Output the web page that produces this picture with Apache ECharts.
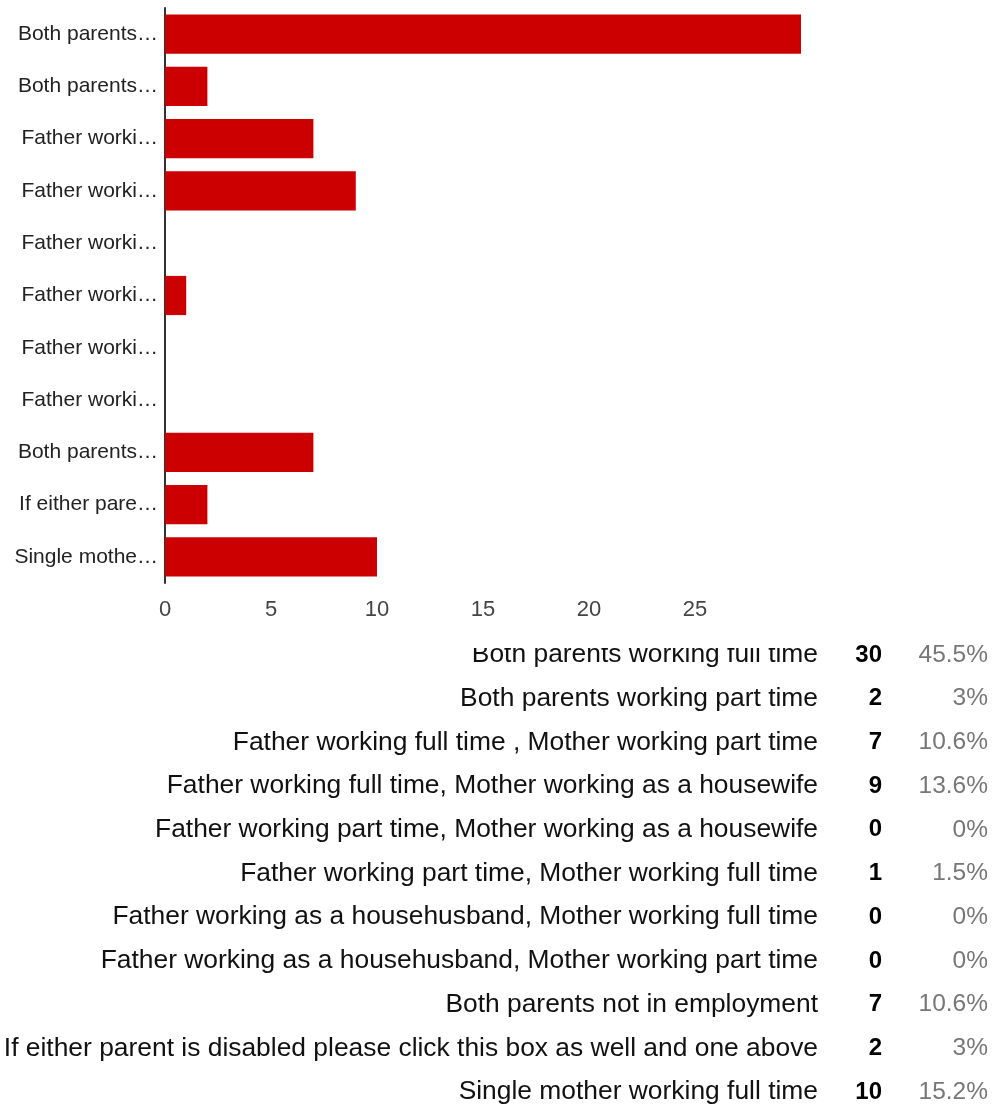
<!DOCTYPE html>
<html>
<head>
<meta charset="utf-8">
<script src="https://cdn.jsdelivr.net/npm/echarts@6/dist/echarts.min.js"></script>
<style>
html,body{margin:0;padding:0;background:#fff;}
#chart{width:997px;height:1108px;}
</style>
</head>
<body>
<div id="chart"></div>
<script>
const categories = [
  "Both parents working full time",
  "Both parents working part time",
  "Father working full time , Mother working part time",
  "Father working full time, Mother working as a housewife",
  "Father working part time, Mother working as a housewife",
  "Father working part time, Mother working full time",
  "Father working as a househusband, Mother working full time",
  "Father working as a househusband, Mother working part time",
  "Both parents not in employment",
  "If either parent is disabled please click this box as well and one above",
  "Single mother working full time"
];
const shortLabels = [
  "Both parents…", "Both parents…", "Father worki…", "Father worki…",
  "Father worki…", "Father worki…", "Father worki…", "Father worki…",
  "Both parents…", "If either pare…", "Single mothe…"
];
const counts = [30, 2, 7, 9, 0, 1, 0, 0, 7, 2, 10];
const percents = ["45.5%", "3%", "10.6%", "13.6%", "0%", "1.5%", "0%", "0%", "10.6%", "3%", "15.2%"];
const xTicks = [0, 5, 10, 15, 20, 25];

const chart = echarts.init(document.getElementById('chart'), null, {renderer: 'canvas'});
const FONT = "'Liberation Sans', Arial, sans-serif";

const graphics = [];
const rowY0 = 655, rowStep = 43.7;
categories.forEach((c, i) => {
  const y = rowY0 + i * rowStep;
  graphics.push({type: 'text', x: 818, y: y, style: {text: c, font: "26.4px " + FONT, fill: '#111', textAlign: 'right', textVerticalAlign: 'middle'}, z: 1});
  graphics.push({type: 'text', x: 882, y: y, style: {text: String(counts[i]), font: "bold 24px " + FONT, fill: '#000', textAlign: 'right', textVerticalAlign: 'middle'}, z: 1});
  graphics.push({type: 'text', x: 988, y: y, style: {text: percents[i], font: "24.5px " + FONT, fill: '#777', textAlign: 'right', textVerticalAlign: 'middle'}, z: 1});
});
// clipping band over the first row's label (as in the reference)
graphics.push({type: 'rect', shape: {x: 0, y: 625, width: 830, height: 23}, style: {fill: '#fff'}, z: 5});

chart.setOption({
  animation: false,
  backgroundColor: '#fff',
  grid: {left: 165, right: 196, top: 8, bottom: 525, containLabel: false},
  xAxis: {
    type: 'value', min: 0, max: 30, interval: 5,
    axisLine: {show: false}, axisTick: {show: false}, splitLine: {show: false},
    axisLabel: {
      color: '#444', fontSize: 22, fontFamily: FONT, margin: 16, showMaxLabel: false,
      formatter: v => xTicks.indexOf(v) >= 0 ? String(v) : ''
    }
  },
  yAxis: {
    type: 'category', inverse: true, data: categories,
    axisLine: {show: true, lineStyle: {color: '#333', width: 2}},
    axisTick: {show: false},
    axisLabel: {color: '#222', fontSize: 21, fontFamily: FONT, margin: 7,
      formatter: (v, i) => shortLabels[i]}
  },
  series: [{
    type: 'bar', data: counts, barWidth: '75%',
    itemStyle: {color: '#cc0000'}
  }],
  graphic: graphics
});
</script>
</body>
</html>
